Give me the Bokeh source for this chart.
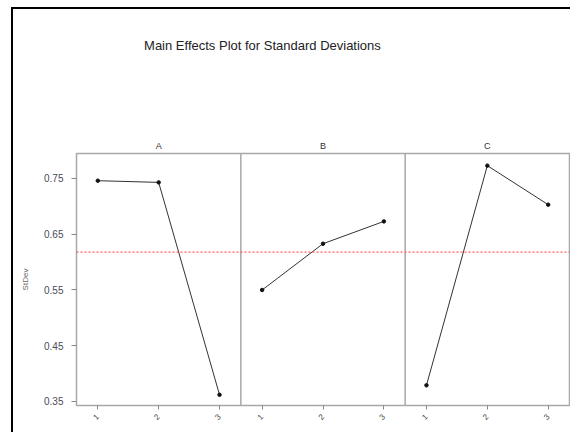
from bokeh.plotting import figure
from bokeh.models import Range1d, FixedTicker, Span, Label
from bokeh.layouts import column
from bokeh.embed import file_html
from bokeh.resources import INLINE

# ---- data ----
title_text = "Main Effects Plot for Standard Deviations"
factors = ["A", "B", "C"]
levels = ["1", "2", "3"]
sd_A = [0.746, 0.743, 0.362]
sd_B = [0.550, 0.633, 0.673]
sd_C = [0.379, 0.773, 0.703]
y_ticks = [0.35, 0.45, 0.55, 0.65, 0.75]
y_label = "StDev"

series = [sd_A, sd_B, sd_C]
all_vals = sd_A + sd_B + sd_C
grand_mean = sum(all_vals) / len(all_vals)

# panel geometry in data units
PANEL = 54
STEP = 20
OFF = 7

FONT = "Liberation Sans"
GRAY = "#a8a8a8"

x_range = Range1d(0, PANEL * len(factors))

# ---- title strip (main title + panel titles) ----
top = figure(width=557, height=143, output_backend="svg", toolbar_location=None,
             x_range=x_range, y_range=Range1d(0, 143),
             x_axis_location=None, y_axis_location=None,
             min_border_left=63, min_border_right=1, min_border_top=0, min_border_bottom=0)
top.xgrid.visible = False
top.ygrid.visible = False
top.outline_line_color = None
top.border_fill_color = "white"

top.add_layout(Label(x=61.1, y=107, text=title_text, text_align="center",
                     text_baseline="middle", text_font=FONT, text_font_size="13px",
                     text_color="#222222"))
for i, f in enumerate(factors):
    top.add_layout(Label(x=i * PANEL + PANEL / 2, y=2, text=f, text_align="center",
                         text_baseline="bottom", text_font=FONT, text_font_size="9px",
                         text_color="#333333"))

# ---- main panels ----
p = figure(width=557, height=280, output_backend="svg", toolbar_location=None,
           x_range=x_range, y_range=Range1d(0.3428, 0.7948),
           min_border_left=63, min_border_right=1, min_border_top=1, min_border_bottom=27)
p.xgrid.visible = False
p.ygrid.visible = False
p.outline_line_color = GRAY
p.outline_line_width = 1.5
p.background_fill_color = "white"
p.border_fill_color = "white"

tick_pos = []
overrides = {}
for i, f in enumerate(factors):
    xs = [i * PANEL + OFF + STEP * j for j in range(len(levels))]
    for x, lv in zip(xs, levels):
        tick_pos.append(x)
        overrides[x] = lv
    p.line(xs, series[i], line_color="#333333", line_width=1)
    p.scatter(xs, series[i], size=3.5, color="#111111")
    if i > 0:
        p.add_layout(Span(location=i * PANEL, dimension="height", line_color=GRAY,
                          line_width=1.5))

p.add_layout(Span(location=grand_mean, dimension="width", line_color="#ff5c5c",
                  line_dash="2 2", line_width=1.2))

xa = p.xaxis[0]
xa.ticker = FixedTicker(ticks=tick_pos)
xa.major_label_overrides = overrides
xa.axis_line_color = None
xa.major_tick_line_color = "#888888"
xa.major_tick_out = 4
xa.major_tick_in = 0
xa.minor_tick_line_color = None
xa.major_label_orientation = 0.8
xa.major_label_standoff = 6
xa.major_label_text_font = FONT
xa.major_label_text_font_size = "8px"
xa.major_label_text_color = "#444444"

ya = p.yaxis[0]
ya.ticker = FixedTicker(ticks=y_ticks)
ya.axis_line_color = None
ya.major_tick_line_color = "#888888"
ya.major_tick_out = 5
ya.major_tick_in = 0
ya.minor_tick_line_color = None
ya.major_label_standoff = 8
ya.major_label_text_font = FONT
ya.major_label_text_font_size = "10px"
ya.major_label_text_color = "#4a4a55"
ya.axis_label = y_label
ya.axis_label_text_font = FONT
ya.axis_label_text_font_size = "8px"
ya.axis_label_text_font_style = "normal"
ya.axis_label_text_color = "#666666"
ya.axis_label_standoff = 11

layout = column(top, p, spacing=0,
                styles={"border-left": "2px solid black", "border-top": "2px solid black",
                        "margin-left": "11px", "margin-top": "7px"})

open("out.html", "w").write(file_html(layout, INLINE))
